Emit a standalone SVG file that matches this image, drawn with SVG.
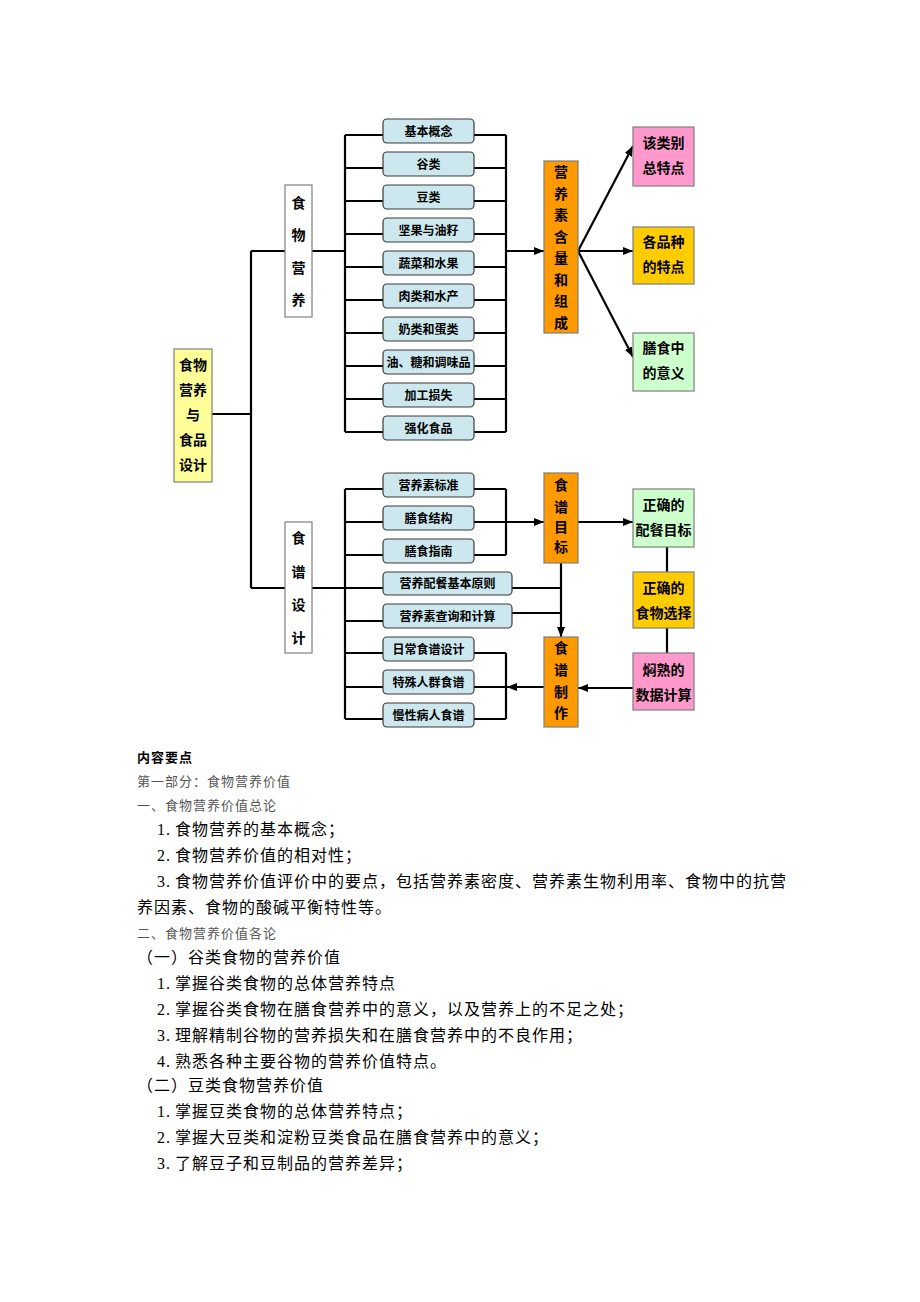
<svg xmlns="http://www.w3.org/2000/svg" width="920" height="1302" viewBox="0 0 920 1302">
<defs>
<marker id="ah" markerWidth="10" markerHeight="8" refX="10" refY="4" orient="auto" markerUnits="userSpaceOnUse"><path d="M0,0 L10,4 L0,8 z" fill="#000"/></marker>
<style>
.ln{stroke:#000;stroke-width:2.2;fill:none}
.arr{stroke:#000;stroke-width:2.2;fill:none;marker-end:url(#ah)}
.lb{fill:#CCE8EE;stroke:#3a3a3a;stroke-width:1.2}
.lt{font-family:"Noto Sans CJK SC",sans-serif;font-size:12px;font-weight:700;text-anchor:middle;fill:#000}
.bx{stroke:#7f7f7f;stroke-width:1.2}
.bt{font-family:"Noto Sans CJK SC",sans-serif;font-size:14px;font-weight:700;text-anchor:middle;fill:#000}
.body{font-family:"Liberation Serif","Noto Sans CJK SC",serif;font-size:16px;fill:#000;letter-spacing:1px}
.sm{font-family:"Noto Sans CJK SC",sans-serif;font-size:13px;fill:#555;letter-spacing:1px}
</style>
</defs>
<rect x="0" y="0" width="920" height="1302" fill="#fff"/>

<g id="connectors">
<path class="ln" d="M212,414 H251 M251,251 V588 M251,251 H285 M251,588 H285 M312,251 H345 M345,135 V432"/>
<path class="ln" d="M345,135 H383 M345,168 H383 M345,201 H383 M345,234 H383 M345,267 H383 M345,300 H383 M345,333 H383 M345,366 H383 M345,399 H383 M345,432 H383"/>
<path class="ln" d="M474,135 H506 M474,168 H506 M474,201 H506 M474,234 H506 M474,267 H506 M474,300 H506 M474,333 H506 M474,366 H506 M474,399 H506 M474,432 H506 M506,135 V432"/>
<path class="arr" d="M506,251 H544"/>
<path class="arr" d="M578,251 L633,146"/>
<path class="arr" d="M578,251 H633"/>
<path class="arr" d="M578,251 L633,357"/>
<path class="ln" d="M312,588 H345 M345,489 V719"/>
<path class="ln" d="M345,489 H383 M345,522 H383 M345,555 H383 M345,588 H383 M345,621 H383 M345,653 H383 M345,687 H383 M345,719 H383"/>
<path class="ln" d="M474,489 H506 M474,555 H506 M506,489 V555"/>
<path class="arr" d="M474,522 H544"/>
<path class="ln" d="M512,588 H561 M512,613 H561"/>
<path class="arr" d="M561,563 V637"/>
<path class="ln" d="M474,653 H506 M474,687 H506 M474,719 H506 M506,653 V719"/>
<path class="arr" d="M544,687 H507"/>
<path class="arr" d="M578,522 H633"/>
<path class="ln" d="M667,547 V572 M667,628 V653"/>
<path class="arr" d="M633,688 H578"/>
</g>

<g id="n-main">
<rect class="bx" x="174" y="349" width="38" height="133" fill="#FFFF99"/>
<text class="bt" x="193"><tspan x="193" y="370">食物</tspan><tspan x="193" y="395">营养</tspan><tspan x="193" y="420">与</tspan><tspan x="193" y="445">食品</tspan><tspan x="193" y="470">设计</tspan></text>
</g>

<g id="n-food">
<rect class="bx" x="285" y="185" width="27" height="132" fill="#fff"/>
<text class="bt" x="298.5"><tspan x="298.5" y="208">食</tspan><tspan x="298.5" y="240">物</tspan><tspan x="298.5" y="273">营</tspan><tspan x="298.5" y="305">养</tspan></text>
</g>

<g id="n-recipe">
<rect class="bx" x="285" y="522" width="27" height="131" fill="#fff"/>
<text class="bt" x="298.5"><tspan x="298.5" y="543">食</tspan><tspan x="298.5" y="577">谱</tspan><tspan x="298.5" y="610">设</tspan><tspan x="298.5" y="643">计</tspan></text>
</g>

<g id="n-u1"><rect class="lb" x="383" y="119" width="91" height="24" rx="4"/><text class="lt" x="428.5" y="135.5">基本概念</text></g>
<g id="n-u2"><rect class="lb" x="383" y="152" width="91" height="24" rx="4"/><text class="lt" x="428.5" y="168.5">谷类</text></g>
<g id="n-u3"><rect class="lb" x="383" y="185" width="91" height="24" rx="4"/><text class="lt" x="428.5" y="201.5">豆类</text></g>
<g id="n-u4"><rect class="lb" x="383" y="218" width="91" height="24" rx="4"/><text class="lt" x="428.5" y="234.5">坚果与油籽</text></g>
<g id="n-u5"><rect class="lb" x="383" y="251" width="91" height="24" rx="4"/><text class="lt" x="428.5" y="267.5">蔬菜和水果</text></g>
<g id="n-u6"><rect class="lb" x="383" y="284" width="91" height="24" rx="4"/><text class="lt" x="428.5" y="300.5">肉类和水产</text></g>
<g id="n-u7"><rect class="lb" x="383" y="317" width="91" height="24" rx="4"/><text class="lt" x="428.5" y="333.5">奶类和蛋类</text></g>
<g id="n-u8"><rect class="lb" x="383" y="350" width="91" height="24" rx="4"/><text class="lt" x="428.5" y="366.5">油、糖和调味品</text></g>
<g id="n-u9"><rect class="lb" x="383" y="383" width="91" height="24" rx="4"/><text class="lt" x="428.5" y="399.5">加工损失</text></g>
<g id="n-u10"><rect class="lb" x="383" y="416" width="91" height="24" rx="4"/><text class="lt" x="428.5" y="432.5">强化食品</text></g>

<g id="n-content">
<rect class="bx" x="544" y="161" width="34" height="172" fill="#FF9900"/>
<text class="bt" x="561"><tspan x="561" y="177">营</tspan><tspan x="561" y="198.5">养</tspan><tspan x="561" y="220">素</tspan><tspan x="561" y="241.5">含</tspan><tspan x="561" y="263">量</tspan><tspan x="561" y="284.5">和</tspan><tspan x="561" y="306">组</tspan><tspan x="561" y="327.5">成</tspan></text>
</g>

<g id="n-r1"><rect class="bx" x="633" y="127" width="61" height="59" fill="#FF99CC"/><text class="bt" x="663.5"><tspan x="663.5" y="148">该类别</tspan><tspan x="663.5" y="173">总特点</tspan></text></g>
<g id="n-r2"><rect class="bx" x="633" y="227" width="61" height="57" fill="#FFCC00"/><text class="bt" x="663.5"><tspan x="663.5" y="247">各品种</tspan><tspan x="663.5" y="272">的特点</tspan></text></g>
<g id="n-r3"><rect class="bx" x="633" y="333" width="61" height="58" fill="#CCFFCC"/><text class="bt" x="663.5"><tspan x="663.5" y="353">膳食中</tspan><tspan x="663.5" y="378">的意义</tspan></text></g>

<g id="n-l1"><rect class="lb" x="383" y="473" width="91" height="24" rx="4"/><text class="lt" x="428.5" y="489.5">营养素标准</text></g>
<g id="n-l2"><rect class="lb" x="383" y="506" width="91" height="24" rx="4"/><text class="lt" x="428.5" y="522.5">膳食结构</text></g>
<g id="n-l3"><rect class="lb" x="383" y="539" width="91" height="24" rx="4"/><text class="lt" x="428.5" y="555.5">膳食指南</text></g>
<g id="n-l4"><rect class="lb" x="383" y="572" width="129" height="23" rx="4"/><text class="lt" x="447.5" y="588">营养配餐基本原则</text></g>
<g id="n-l5"><rect class="lb" x="383" y="604" width="129" height="24" rx="4"/><text class="lt" x="447.5" y="620.5">营养素查询和计算</text></g>
<g id="n-l6"><rect class="lb" x="383" y="637" width="91" height="24" rx="4"/><text class="lt" x="428.5" y="653.5">日常食谱设计</text></g>
<g id="n-l7"><rect class="lb" x="383" y="670" width="91" height="24" rx="4"/><text class="lt" x="428.5" y="686.5">特殊人群食谱</text></g>
<g id="n-l8"><rect class="lb" x="383" y="703" width="91" height="24" rx="4"/><text class="lt" x="428.5" y="719.5">慢性病人食谱</text></g>

<g id="n-goal">
<rect class="bx" x="544" y="473" width="34" height="90" fill="#FF9900"/>
<text class="bt" x="561"><tspan x="561" y="490">食</tspan><tspan x="561" y="512">谱</tspan><tspan x="561" y="532">目</tspan><tspan x="561" y="552">标</tspan></text>
</g>
<g id="n-make">
<rect class="bx" x="544" y="637" width="34" height="90" fill="#FF9900"/>
<text class="bt" x="561"><tspan x="561" y="653">食</tspan><tspan x="561" y="675">谱</tspan><tspan x="561" y="697">制</tspan><tspan x="561" y="718">作</tspan></text>
</g>

<g id="n-g1"><rect class="bx" x="633" y="489" width="61" height="58" fill="#CCFFCC"/><text class="bt" x="663.5"><tspan x="663.5" y="510">正确的</tspan><tspan x="663.5" y="535">配餐目标</tspan></text></g>
<g id="n-g2"><rect class="bx" x="633" y="572" width="61" height="56" fill="#FFCC00"/><text class="bt" x="663.5"><tspan x="663.5" y="593">正确的</tspan><tspan x="663.5" y="618">食物选择</tspan></text></g>
<g id="n-g3"><rect class="bx" x="633" y="653" width="61" height="57" fill="#FF99CC"/><text class="bt" x="663.5"><tspan x="663.5" y="675">焖熟的</tspan><tspan x="663.5" y="700">数据计算</tspan></text></g>

<g id="body-text">
<text class="sm" x="137" y="762" style="fill:#000;font-weight:700">内容要点</text>
<text class="sm" x="137" y="786">第一部分：食物营养价值</text>
<text class="sm" x="137" y="810">一、食物营养价值总论</text>
<text class="body" x="157" y="835">1.<tspan x="175">食物营养的基本概念；</tspan></text>
<text class="body" x="157" y="861">2.<tspan x="175">食物营养价值的相对性；</tspan></text>
<text class="body" x="157" y="887">3.<tspan x="175">食物营养价值评价中的要点，包括营养素密度、营养素生物利用率、食物中的抗营</tspan></text>
<text class="body" x="137" y="913">养因素、食物的酸碱平衡特性等。</text>
<text class="sm" x="137" y="938">二、食物营养价值各论</text>
<text class="body" x="137" y="963">（一）谷类食物的营养价值</text>
<text class="body" x="157" y="989">1.<tspan x="175">掌握谷类食物的总体营养特点</tspan></text>
<text class="body" x="157" y="1015">2.<tspan x="175">掌握谷类食物在膳食营养中的意义，以及营养上的不足之处；</tspan></text>
<text class="body" x="157" y="1041">3.<tspan x="175">理解精制谷物的营养损失和在膳食营养中的不良作用；</tspan></text>
<text class="body" x="157" y="1067">4.<tspan x="175">熟悉各种主要谷物的营养价值特点。</tspan></text>
<text class="body" x="137" y="1091">（二）豆类食物营养价值</text>
<text class="body" x="157" y="1117">1.<tspan x="175">掌握豆类食物的总体营养特点；</tspan></text>
<text class="body" x="157" y="1143">2.<tspan x="175">掌握大豆类和淀粉豆类食品在膳食营养中的意义；</tspan></text>
<text class="body" x="157" y="1169">3.<tspan x="175">了解豆子和豆制品的营养差异；</tspan></text>
</g>
</svg>
